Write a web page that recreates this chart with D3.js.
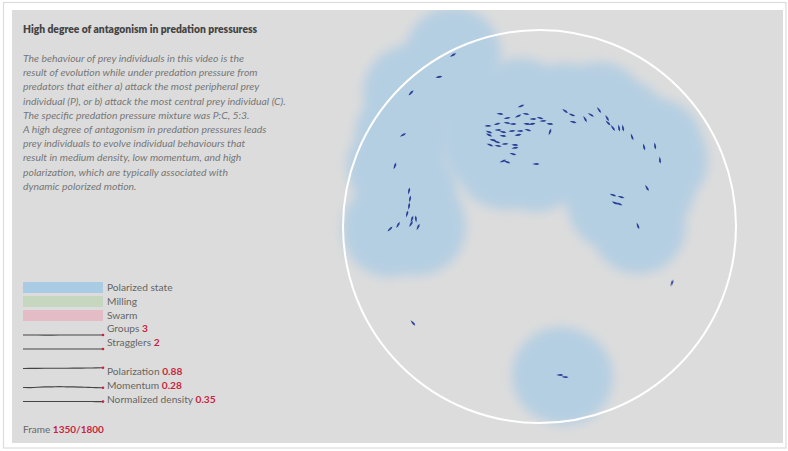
<!DOCTYPE html>
<html><head><meta charset="utf-8">
<script src="https://cdn.jsdelivr.net/npm/d3@7"></script>
<style>body{margin:0;background:#fff;}svg{display:block;}</style>
</head><body>
<svg id="chart" width="788" height="451"></svg>
<script>
// ---------- DATA ----------
const title = "High degree of antagonism in predation pressuress";
const description = [
  "The behaviour of prey individuals in this video is the",
  "result of evolution while under predation pressure from",
  "predators that either a) attack the most peripheral prey",
  "individual (P), or b) attack the most central prey individual (C).",
  "The specific predation pressure mixture was P:C, 5:3.",
  "A high degree of antagonism in predation pressures leads",
  "prey individuals to evolve individual behaviours that",
  "result in medium density, low momentum, and high",
  "polarization, which are typically associated with",
  "dynamic polorized motion."
];
const stateNames = ["Polarized state", "Milling", "Swarm"];
const stateColors = ["#a9cbe3", "#c5d8bf", "#e3bcc6"];
const metricNames = ["Groups", "Stragglers", "Polarization", "Momentum", "Normalized density"];
const metricValues = ["3", "2", "0.88", "0.28", "0.35"];
const frame = 1350, totalFrames = 1800;
// metric histories (small sparkline series, arbitrary vertical units)
const groupsHistory =       [0.50,0.50,0.50,0.49,0.49,0.50,0.50,0.50,0.49,0.50,0.50,0.50];
const stragglersHistory =   [0.50,0.50,0.50,0.50,0.50,0.49,0.50,0.50,0.50,0.50,0.50,0.50];
const polarizationHistory = [0.45,0.47,0.46,0.48,0.47,0.47,0.48,0.49,0.48,0.50,0.51,0.53];
const momentumHistory =     [0.45,0.42,0.47,0.52,0.50,0.55,0.50,0.52,0.48,0.46,0.44,0.42];
const densityHistory =      [0.50,0.50,0.51,0.50,0.51,0.50,0.50,0.49,0.50,0.50,0.49,0.49];
// fish: arena coordinates (arena radius = 100), heading (deg), group id (0 = straggler)
const fishX = [-44.0,-51.2,-65.4,-69.5,-73.6,-66.4,-65.9,-66.4,-67.4,-64.9,-62.9,-65.4,-61.8,-72.0,-76.1,
  -9.4,-20.1,-16.5,-10.9,-6.9,-3.3,0.3,1.8,5.3,-26.2,-21.6,-16.5,-13.5,-6.4,-3.8,-25.7,-21.1,-18.6,-14.0,-9.9,-5.9,-25.7,-18.6,-10.9,5.3,-23.7,-21.6,-25.2,-21.1,-17.6,-12.5,-12.5,-13.5,-18.6,-16.5,-1.8,
  13.0,16.5,17.1,23.2,26.2,30.3,34.4,34.9,37.4,40.5,42.5,47.1,53.2,58.8,61.3,
  54.7,37.4,41.5,38.4,40.5,50.1,
  10.4,13.0,
  67.4,-64.4];
const fishY = [-87.3,-76.1,-68.0,-46.6,-30.8,-18.1,-14.0,-10.4,-6.4,-3.8,-3.8,-1.3,0.3,-0.8,1.3,
  -61.3,-57.3,-55.2,-56.2,-57.3,-54.7,-55.2,-53.7,-52.2,-51.2,-52.2,-52.7,-52.2,-52.2,-52.2,-48.1,-49.1,-48.1,-48.6,-48.6,-49.1,-46.6,-46.1,-46.6,-48.1,-44.0,-43.0,-41.5,-41.0,-42.0,-41.5,-40.0,-36.9,-33.3,-32.8,-31.8,
  -58.8,-56.8,-53.2,-54.7,-56.8,-59.3,-55.2,-52.7,-50.1,-50.1,-50.1,-45.6,-40.5,-41.0,-33.8,
  -19.6,-16.0,-15.0,-12.0,-11.5,-0.3,
  75.6,76.6,
  28.8,49.1];
const fishHeading = [-30,-10,-45,-30,-70,-78,-80,-82,-75,-70,-95,-60,-65,-60,-45,
  -20,5,-10,-25,10,0,15,-5,5,0,-15,10,0,5,-10,20,0,10,-5,0,15,25,5,-10,-70,10,15,20,10,-5,5,-10,15,-20,20,0,
  35,20,15,60,30,55,60,45,55,80,80,70,75,80,85,
  60,20,15,25,20,70,
  0,5,
  -70,50];
const fishGroup = [1,1,1,1,1,1,1,1,1,1,1,1,1,1,1,
  2,2,2,2,2,2,2,2,2,2,2,2,2,2,2,2,2,2,2,2,2,2,2,2,2,2,2,2,2,2,2,2,2,2,2,2,
  2,2,2,2,2,2,2,2,2,2,2,2,2,2,2,
  2,2,2,2,2,2,
  3,3,
  0,0];
const groupRadius = 24.4; // influence radius in arena units

// ---------- DRAW ----------
const svg = d3.select("#chart");
const fontFam = "Lato, 'Open Sans', sans-serif";
const red = "#c8243f";

// frame
svg.append("rect").attr("x", 3.5).attr("y", 2.5).attr("width", 782.5).attr("height", 445.5)
  .attr("fill", "#fff").attr("stroke", "#dcdcdc").attr("stroke-width", 1.2);
const panel = {x: 12, y: 10, w: 771, h: 433};
svg.append("rect").attr("x", panel.x).attr("y", panel.y).attr("width", panel.w).attr("height", panel.h)
  .attr("fill", "#dcdcdc");

const defs = svg.append("defs");
defs.append("clipPath").attr("id", "pclip").append("rect")
  .attr("x", panel.x).attr("y", panel.y).attr("width", panel.w).attr("height", panel.h);
defs.append("filter").attr("id", "blur").attr("x", "-30%").attr("y", "-30%").attr("width", "160%").attr("height", "160%")
  .append("feGaussianBlur").attr("stdDeviation", 5.5);
defs.append("filter").attr("id", "soft")
  .append("feGaussianBlur").attr("stdDeviation", 0.35);

// arena scales
const cx = 539.5, cy = 226.5, R = 196.5;
const x = d3.scaleLinear().domain([-100, 100]).range([cx - R, cx + R]);
const y = d3.scaleLinear().domain([-100, 100]).range([cy - R, cy + R]);
const rs = d3.scaleLinear().domain([0, 100]).range([0, R]);

const fish = fishX.map((fx, i) => ({x: fx, y: fishY[i], h: fishHeading[i], g: fishGroup[i]}));

const arena = svg.append("g").attr("clip-path", "url(#pclip)");
const groups = d3.groups(fish.filter(f => f.g > 0), f => f.g);
groups.forEach(([g, members]) => {
  arena.append("g").attr("filter", "url(#blur)")
    .selectAll("circle").data(members).join("circle")
    .attr("cx", d => x(d.x)).attr("cy", d => y(d.y)).attr("r", rs(groupRadius))
    .attr("fill", "#b5cfe2");
});

arena.append("circle").attr("cx", x(0)).attr("cy", y(0)).attr("r", rs(100))
  .attr("fill", "none").attr("stroke", "#fff").attr("stroke-width", 2);

arena.append("g").attr("filter", "url(#soft)")
  .selectAll("path.fish").data(fish).join("path").attr("class", "fish")
  .attr("d", "M3.6,0 L1.2,-0.95 L-1,-0.8 L-3.6,0 L-1,0.8 L1.2,0.95 Z")
  .attr("transform", d => `translate(${x(d.x)},${y(d.y)}) rotate(${d.h})`)
  .attr("fill", "#2a4196");

// text panel
const tx = 23;
svg.append("text").attr("x", tx).attr("y", 33).text(title)
  .attr("font-family", fontFam).attr("font-weight", 800).attr("font-size", 10.3).attr("fill", "#444");
svg.append("g").selectAll("text").data(description).join("text")
  .attr("x", tx).attr("y", (d, i) => 62 + i * 14.2).text(d => d)
  .attr("font-family", fontFam).attr("font-style", "italic").attr("font-size", 10.4).attr("fill", "#777");

// legend states
const legend = svg.append("g");
const sw = {x: 23, w: 80, h: 11};
const stateY = [282, 296, 310];
const lblSize = 10.2;
legend.selectAll("rect").data(stateNames).join("rect")
  .attr("x", sw.x).attr("y", (d, i) => stateY[i]).attr("width", sw.w).attr("height", sw.h)
  .attr("fill", (d, i) => stateColors[i]);
legend.selectAll("text.state").data(stateNames).join("text").attr("class", "state")
  .attr("x", 107).attr("y", (d, i) => stateY[i] + 9).text(d => d)
  .attr("font-family", fontFam).attr("font-size", lblSize).attr("fill", "#666");

// metric sparklines
const histories = [groupsHistory, stragglersHistory, polarizationHistory, momentumHistory, densityHistory];
const lineY = [335, 349, 368, 387, 401.5];
const labelY = [332, 346, 375, 389, 403];
const sx = d3.scaleLinear().domain([0, 11]).range([23, 103]);
const sy = d3.scaleLinear().domain([0, 1]).range([5, -5]);
histories.forEach((hst, k) => {
  const g = legend.append("g").attr("transform", `translate(0,${lineY[k] - sy(0.5)})`);
  g.append("path").datum(hst)
    .attr("d", d3.line().x((d, i) => sx(i)).y(d => sy(d)).curve(d3.curveBasis))
    .attr("fill", "none").attr("stroke", "#444").attr("stroke-width", 1.1);
  g.append("circle").attr("cx", sx(hst.length - 1)).attr("cy", sy(hst[hst.length - 1])).attr("r", 1.3).attr("fill", red);
});
metricNames.forEach((m, k) => {
  const t = legend.append("text").attr("x", 107).attr("y", labelY[k])
    .attr("font-family", fontFam).attr("font-size", lblSize).attr("fill", "#666");
  t.append("tspan").text(m + " ");
  t.append("tspan").text(metricValues[k]).attr("font-weight", 700).attr("fill", red);
});

// frame counter
const ft = svg.append("text").attr("x", 23).attr("y", 433)
  .attr("font-family", fontFam).attr("font-size", 10).attr("fill", "#666");
ft.append("tspan").text("Frame ");
ft.append("tspan").text(`${frame}/${totalFrames}`).attr("font-weight", 700).attr("fill", red);
</script>
</body></html>
